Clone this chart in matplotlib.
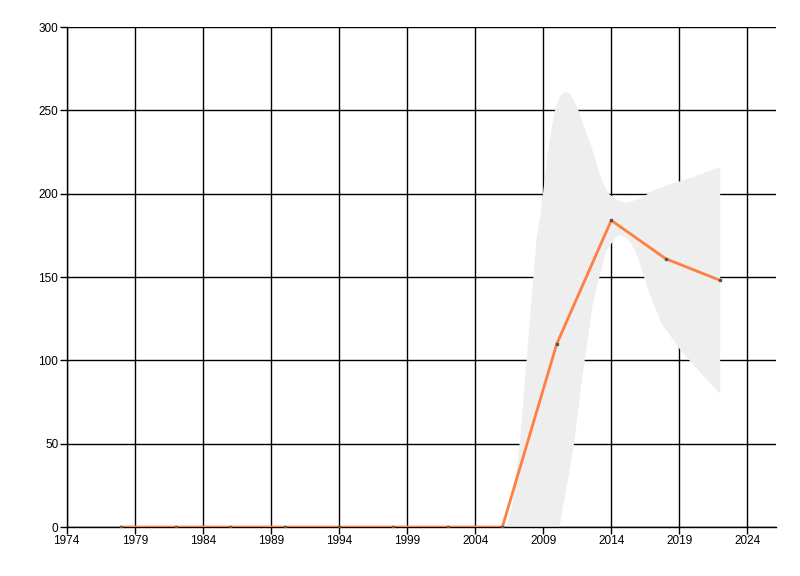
import matplotlib
matplotlib.use("Agg")
from matplotlib import pyplot as plt

# series values, one point every 4 years
years = [1978, 1982, 1986, 1990, 1994, 1998, 2002, 2006, 2010, 2014, 2018, 2022]
values = [0, 0, 0, 0, 0, 0, 0, 0, 110, 184, 161, 148]

# confidence band edges
upper_x = [2006.3, 2006.7, 2007.0, 2007.3, 2007.7, 2008.1, 2008.5, 2008.8, 2009.1,
           2009.4, 2009.8, 2010.0, 2010.2, 2010.45, 2010.7, 2010.95, 2011.2, 2011.7,
           2012.1, 2012.55, 2013.3, 2013.8, 2014.5, 2015.1, 2016.1, 2017.1, 2018.1,
           2020.0, 2022.0]
upper_y = [0, 12, 32, 52, 92, 132, 172, 188, 208,
           228, 248, 254, 258, 260.3, 261, 260, 257, 248,
           238, 228, 208, 200, 196, 194.5, 197, 202, 205,
           210, 216]
lower_x = [2010.2, 2010.45, 2010.9, 2011.3, 2011.9, 2012.2, 2012.6, 2012.9, 2013.2,
           2013.45, 2013.65, 2014.0, 2014.3, 2014.6, 2015.0, 2015.4, 2015.8, 2016.1,
           2016.8, 2017.7, 2019.1, 2020.5, 2022.0]
lower_y = [0, 12, 32, 52, 92, 108, 132, 143, 152,
           160, 166, 170, 173.5, 175, 174, 171, 165, 158,
           140, 122, 106, 93, 80]

xticks = [1974, 1979, 1984, 1989, 1994, 1999, 2004, 2009, 2014, 2019, 2024]
yticks = [0, 50, 100, 150, 200, 250, 300]

fig = plt.figure(figsize=(8, 5.76), dpi=100)
ax = fig.add_axes([0.0834, 0.085, 0.8866, 0.868])

# band polygon: upper edge left to right, lower edge right to left
band_x = upper_x + lower_x[::-1]
band_y = upper_y + lower_y[::-1]
ax.fill(band_x, band_y, color='#eeeeee', lw=0, zorder=1)

ax.plot(years, values, color='#ff7f3f', lw=2, zorder=3)
ax.plot(years, values, ls='none', marker='s', ms=2, color='#555555', zorder=4)

ax.set_xlim(1974, 2026.1)
ax.set_ylim(0, 300)
ax.set_xticks(xticks)
ax.set_yticks(yticks)
ax.set_axisbelow(True)
ax.grid(True, color='black', lw=1)

for side in ['top', 'right']:
    ax.spines[side].set_visible(False)
for side in ['left', 'bottom']:
    ax.spines[side].set_color('black')
    ax.spines[side].set_linewidth(1)

ax.tick_params(direction='out', length=5, width=1, color='black',
               labelsize=8.5, pad=1)
for lbl in ax.get_xticklabels() + ax.get_yticklabels():
    lbl.set_family(['Liberation Sans', 'DejaVu Sans'])

fig.savefig('out.png', dpi=100)
